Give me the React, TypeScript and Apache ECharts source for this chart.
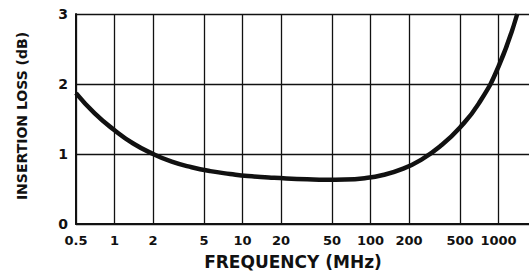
import React, { useEffect, useRef } from "react";
import * as echarts from "echarts";

// Frequency (MHz) and insertion loss (dB)
const frequencies = [0.5, 0.7, 1, 1.4, 2, 2.8, 4, 5.6, 8, 11, 16, 22, 32, 45, 63, 90, 125, 180, 250, 350, 500, 700, 1000, 1400];
const insertionLoss = [1.87, 1.58, 1.34, 1.15, 1.0, 0.89, 0.81, 0.755, 0.715, 0.685, 0.665, 0.65, 0.638, 0.632, 0.635, 0.655, 0.7, 0.79, 0.92, 1.11, 1.38, 1.72, 2.25, 3.0];

// x tick values and labels
const xTickValues = [0.5, 1, 2, 5, 10, 20, 50, 100, 200, 500, 1000];
const xTickLabels = ["0.5", "1", "2", "5", "10", "20", "50", "100", "200", "500", "1000"];
const xMaxFreq = 1730;

const yTicks = [0, 1, 2, 3];

const FONT = "DejaVu Sans";

export default function App() {
  const ref = useRef<HTMLDivElement>(null);
  useEffect(() => {
    if (!ref.current) return;
    const chart = echarts.init(ref.current, null, { renderer: "svg" });
    const logTicks = xTickValues.map((v) => Math.log10(v));
    const data = frequencies.map((f, i) => [Math.log10(f), insertionLoss[i]]);
    chart.setOption({
      animation: false,
      backgroundColor: "#ffffff",
      grid: { left: 76, right: 0, top: 14, bottom: 50 },
      xAxis: {
        type: "value",
        min: Math.log10(xTickValues[0]),
        max: Math.log10(xMaxFreq),
        axisLine: { show: true, onZero: false, lineStyle: { color: "#111", width: 2 } },
        axisTick: { show: false, customValues: logTicks },
        splitLine: { show: true, lineStyle: { color: "#111", width: 1.3 } },
        axisLabel: {
          customValues: logTicks,
          interval: 0,
          margin: 10,
          color: "#111",
          fontFamily: FONT,
          fontWeight: "bold",
          fontSize: 13,
          formatter: (v: number) => {
            let best = 0;
            let bd = Infinity;
            logTicks.forEach((t, i) => {
              const d = Math.abs(t - v);
              if (d < bd) {
                bd = d;
                best = i;
              }
            });
            return xTickLabels[best];
          },
        },
      },
      yAxis: {
        type: "value",
        min: yTicks[0],
        max: yTicks[yTicks.length - 1],
        interval: 1,
        axisLine: { show: true, onZero: false, lineStyle: { color: "#111", width: 2 } },
        axisTick: { show: false },
        splitLine: { show: true, lineStyle: { color: "#111", width: 1.3 } },
        axisLabel: {
          margin: 8,
          color: "#111",
          fontFamily: FONT,
          fontWeight: "bold",
          fontSize: 14,
        },
      },
      graphic: [
        {
          type: "text",
          x: 293,
          y: 262,
          style: {
            text: "FREQUENCY (MHz)",
            fill: "#111",
            font: `bold 17px "${FONT}"`,
            align: "center",
            verticalAlign: "middle",
          },
        },
        {
          type: "text",
          x: 22,
          y: 116,
          rotation: Math.PI / 2,
          style: {
            text: "INSERTION LOSS (dB)",
            fill: "#111",
            font: `bold 14px "${FONT}"`,
            align: "center",
            verticalAlign: "middle",
          },
        },
      ],
      series: [
        {
          type: "line",
          data,
          smooth: 0.5,
          showSymbol: false,
          symbol: "none",
          clip: true,
          lineStyle: { color: "#111", width: 4.5 },
        },
      ],
    });
    return () => chart.dispose();
  }, []);
  return (
    <div
      ref={ref}
      style={{ position: "fixed", left: 0, top: 0, width: 529, height: 274, background: "#fff" }}
    />
  );
}
